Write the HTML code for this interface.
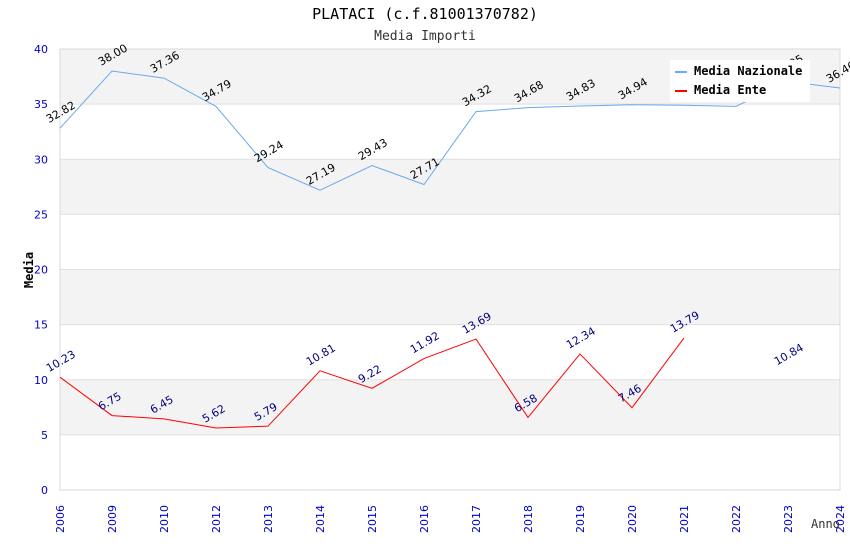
<!DOCTYPE html>
<html><head><meta charset="utf-8"><style>
body{margin:0;background:#fff;}
svg{display:block;font-family:"DejaVu Sans","Liberation Sans",sans-serif;}
</style></head><body>
<svg id="chart" width="850" height="550">
<text x="425" y="19" text-anchor="middle" font-family="DejaVu Sans Mono, monospace" font-size="15">PLATACI (c.f.81001370782)</text>
<text x="425" y="40" text-anchor="middle" font-family="DejaVu Sans Mono, monospace" font-size="13" fill="#333">Media Importi</text>
<g id="grid"></g>
<g id="axes"></g>
<g id="series"></g>
<g id="legend">
<rect x="670" y="60" width="140" height="42" fill="#fff"/>
<line x1="675" y1="72" x2="687" y2="72" stroke="#66aaff" stroke-width="2"/>
<text x="694" y="75" font-family="DejaVu Sans Mono, monospace" font-weight="bold" font-size="12">Media Nazionale</text>
<line x1="675" y1="91" x2="687" y2="91" stroke="#ff0000" stroke-width="2"/>
<text x="694" y="94" font-family="DejaVu Sans Mono, monospace" font-weight="bold" font-size="12">Media Ente</text>
</g>
<text x="33" y="270" transform="rotate(-90 33 270)" text-anchor="middle" font-family="DejaVu Sans Mono, monospace" font-weight="bold" font-size="12">Media</text>
<text x="811" y="528" font-family="DejaVu Sans Mono, monospace" font-size="12" fill="#333">Anno</text>
</svg>
<script>
const categories=["2006","2009","2010","2012","2013","2014","2015","2016","2017","2018","2019","2020","2021","2022","2023","2024"];
const nazionale=[32.82,38.00,37.36,34.79,29.24,27.19,29.43,27.71,34.32,34.68,34.83,34.94,34.90,34.80,37.05,36.46];
const ente=[10.23,6.75,6.45,5.62,5.79,10.81,9.22,11.92,13.69,6.58,12.34,7.46,13.79,null,10.84,null];
const yTicks=[0,5,10,15,20,25,30,35,40];
const NS="http://www.w3.org/2000/svg";
const L=60,R=840,T=49,B=490,YMAX=40;
const xs=i=>L+i*(R-L)/(categories.length-1);
const ys=v=>B-v*(B-T)/YMAX;
function mk(tag,attrs,parent){const e=document.createElementNS(NS,tag);for(const k in attrs)e.setAttribute(k,attrs[k]);parent.appendChild(e);return e;}
const grid=document.getElementById('grid'),axes=document.getElementById('axes'),series=document.getElementById('series');
for(let i=0;i<yTicks.length-1;i++){
 const a=yTicks[i],b=yTicks[i+1];
 const r=mk('rect',{x:L,y:ys(b),width:R-L,height:ys(a)-ys(b),fill:(i%2===1)?'#f3f3f3':'#fff'},grid);
 
 
}
yTicks.forEach(v=>{
 const ln=mk('line',{x1:L,x2:R,y1:ys(v),y2:ys(v),stroke:'#e0e0e0'},grid);
 
 
 const t=mk('text',{x:L-12,y:ys(v)+4,'text-anchor':'end','font-size':11,fill:'#0000cc'},axes);
 t.textContent=v;
 
 
});
mk('rect',{x:L,y:T,width:R-L,height:B-T,fill:'none',stroke:'#d8d8d8'},axes);
categories.forEach((c,i)=>{
 const x=xs(i)+4,y=533;
 const t=mk('text',{x:x,y:y,transform:`rotate(-90 ${x} ${y})`,'font-size':11,fill:'#0000cc'},axes);
 t.textContent=c;
 
 
});
function drawSeries(vals,color,labelColor,name){
 let d='';let pen=false;
 vals.forEach((v,i)=>{ if(v==null){pen=false;return;} d+=(pen?'L':'M')+xs(i)+' '+ys(v)+' '; pen=true;});
 const p=mk('path',{d:d,fill:'none',stroke:color,'stroke-width':1},series);
 
 
 vals.forEach((v,i)=>{
  if(v==null)return;
  const x=xs(i)-11,y=ys(v)-5;
  const t=mk('text',{x:x,y:y,transform:`rotate(-30 ${x} ${y})`,'font-size':11,fill:labelColor},series);
  t.textContent=v.toFixed(2);
  
  
 });
}
drawSeries(nazionale,'#66aaee','#000','nazionale');
drawSeries(ente,'#ff0000','#000080','ente');
document.getElementById('chart').appendChild(document.getElementById('legend'));
</script>
</body></html>
